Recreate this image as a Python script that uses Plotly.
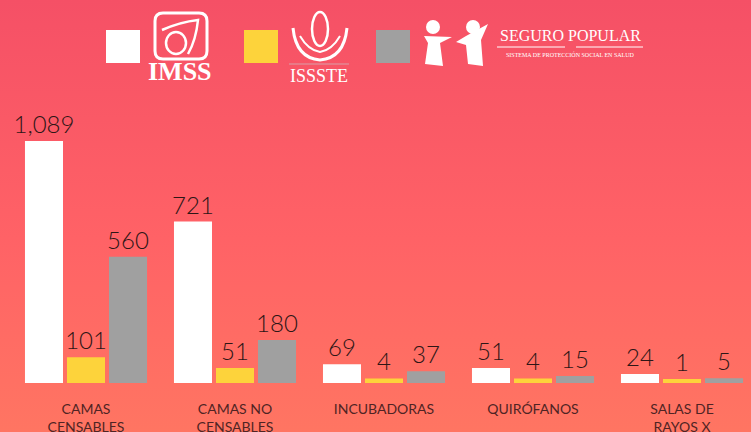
import base64
import plotly.graph_objects as go

# ---------------- data ----------------
categories = ["CAMAS<br>CENSABLES", "CAMAS NO<br>CENSABLES", "INCUBADORAS", "QUIRÓFANOS", "SALAS DE<br>RAYOS X"]
imss = [1089, 721, 69, 51, 24]
issste = [101, 51, 4, 4, 1]
seguro_popular = [560, 180, 37, 15, 5]
series_names = ["IMSS", "ISSSTE", "Seguro Popular"]

# ---------------- style ----------------
W, H = 751, 432
ML, MR, MT, MB = 12, 0, 100, 49
PW, PH = W - ML - MR, H - MT - MB
PAD = 17  # visual minimum thickness of bars (drawn below zero)
colors = ["#FFFFFF", "#FDD33B", "#A0A0A0"]
num_color = "#2e1616"
lab_color = "#4f2424"
FONT = "Lato"

def px(x):
    return (x - ML) / PW

def py(y):
    return (H - MB - y) / PH

fig = go.Figure()
for name, vals, col in zip(series_names, [imss, issste, seguro_popular], colors):
    fig.add_trace(go.Bar(
        name=name, x=categories, y=[v + PAD for v in vals], base=-PAD,
        marker=dict(color=col, line=dict(width=0)),
        text=[f"{v:,}" for v in vals], textposition="outside", constraintext="none",
        cliponaxis=False,
        textfont=dict(family=FONT, size=24, color=num_color, weight=300),
        hovertemplate=name + ": %{text}<extra></extra>",
    ))

# background gradient
svg = ('<svg xmlns="http://www.w3.org/2000/svg" width="751" height="432" preserveAspectRatio="none">'
       '<defs><linearGradient id="g" x1="0" y1="0" x2="0" y2="1">'
       '<stop offset="0" stop-color="#F55066"/><stop offset="0.55" stop-color="#FF6266"/>'
       '<stop offset="1" stop-color="#FF7562"/></linearGradient></defs>'
       '<rect width="751" height="432" fill="url(#g)"/></svg>')
src = "data:image/svg+xml;base64," + base64.b64encode(svg.encode()).decode()

shapes = []
# legend squares
for x0, col in [(106, colors[0]), (244, colors[1]), (376, colors[2])]:
    shapes.append(dict(type="rect", xref="paper", yref="paper",
                       x0=px(x0), x1=px(x0 + 34), y0=py(63), y1=py(30),
                       fillcolor=col, line=dict(width=0)))

def rrect(x0, y0, x1, y1, r):
    return (f"M {px(x0+r)},{py(y0)} L {px(x1-r)},{py(y0)} Q {px(x1)},{py(y0)} {px(x1)},{py(y0+r)} "
            f"L {px(x1)},{py(y1-r)} Q {px(x1)},{py(y1)} {px(x1-r)},{py(y1)} "
            f"L {px(x0+r)},{py(y1)} Q {px(x0)},{py(y1)} {px(x0)},{py(y1-r)} "
            f"L {px(x0)},{py(y0+r)} Q {px(x0)},{py(y0)} {px(x0+r)},{py(y0)} Z")

# IMSS emblem
shapes.append(dict(type="path", xref="paper", yref="paper", path=rrect(155, 13, 207, 59, 8),
                   line=dict(color="white", width=3)))
shapes.append(dict(type="path", xref="paper", yref="paper",
                   path=f"M {px(162)},{py(30)} Q {px(180)},{py(22)} {px(198)},{py(20)} Q {px(196)},{py(40)} {px(188)},{py(54)}",
                   line=dict(color="white", width=2.5)))
shapes.append(dict(type="circle", xref="paper", yref="paper", x0=px(166), x1=px(186), y0=py(54), y1=py(32),
                   line=dict(color="white", width=2.5)))
# ISSSTE emblem (hands approximated)
shapes.append(dict(type="path", xref="paper", yref="paper",
                   path=f"M {px(293)},{py(28)} Q {px(296)},{py(58)} {px(320)},{py(60)} Q {px(344)},{py(58)} {px(347)},{py(28)}",
                   line=dict(color="white", width=3)))
shapes.append(dict(type="path", xref="paper", yref="paper",
                   path=f"M {px(300)},{py(36)} Q {px(308)},{py(50)} {px(320)},{py(52)} Q {px(332)},{py(50)} {px(340)},{py(36)}",
                   line=dict(color="white", width=2)))
shapes.append(dict(type="circle", xref="paper", yref="paper", x0=px(312), x1=px(328), y0=py(46), y1=py(12),
                   line=dict(color="white", width=2.5)))
shapes.append(dict(type="line", xref="paper", yref="paper", x0=px(289), x1=px(349), y0=py(64), y1=py(64),
                   line=dict(color="#d9a0a8", width=1)))
# Seguro Popular children
for hx, hy, r in [(433, 27, 7), (473, 27, 7)]:
    shapes.append(dict(type="circle", xref="paper", yref="paper", x0=px(hx - r), x1=px(hx + r),
                       y0=py(hy + r), y1=py(hy - r), fillcolor="white", line=dict(width=0)))
shapes.append(dict(type="path", xref="paper", yref="paper",
                   path=f"M {px(424)},{py(36)} L {px(452)},{py(37)} L {px(440)},{py(43)} L {px(443)},{py(66)} "
                        f"L {px(425)},{py(64)} L {px(428)},{py(43)} Z",
                   fillcolor="white", line=dict(width=0)))
shapes.append(dict(type="path", xref="paper", yref="paper",
                   path=f"M {px(456)},{py(42)} L {px(466)},{py(36)} L {px(488)},{py(24)} L {px(481)},{py(40)} "
                        f"L {px(483)},{py(66)} L {px(468)},{py(64)} L {px(466)},{py(45)} Z",
                   fillcolor="white", line=dict(width=0)))
# Seguro Popular rule
shapes.append(dict(type="line", xref="paper", yref="paper", x0=px(497), x1=px(565), y0=py(47), y1=py(47),
                   line=dict(color="white", width=1)))
shapes.append(dict(type="line", xref="paper", yref="paper", x0=px(576), x1=px(643), y0=py(47), y1=py(47),
                   line=dict(color="white", width=1)))

def ann(text, x, y, size, bold=False):
    return dict(text=f"<b>{text}</b>" if bold else text, x=px(x), y=py(y), xref="paper", yref="paper",
                xanchor="center", yanchor="middle", showarrow=False,
                font=dict(family="Liberation Serif", size=size, color="white"))

annotations = [
    ann("IMSS", 180, 72, 26, bold=True),
    ann("ISSSTE", 319, 76, 18),
    ann("SEGURO POPULAR", 570, 36, 16),
    ann("SISTEMA DE PROTECCIÓN SOCIAL EN SALUD", 570, 55, 6),
]

fig.update_layout(
    template="none",
    width=W, height=H,
    margin=dict(l=ML, r=MR, t=MT, b=MB, pad=0, autoexpand=False),
    barmode="group", bargap=0.154, bargroupgap=0.095,
    paper_bgcolor="#FF6266", plot_bgcolor="rgba(0,0,0,0)",
    showlegend=False,
    xaxis=dict(range=[-0.5 + 0.5 / 149, -0.5 + 0.5 / 149 + PW / 149], showgrid=False, zeroline=False,
               showline=False, ticks="", ticklabelstandoff=16, automargin=False,
               tickfont=dict(family=FONT, size=14, color=lab_color, weight=400)),
    yaxis=dict(range=[-PAD, -PAD + PH * 1106 / 242], visible=False, showgrid=False, zeroline=False,
               automargin=False),
    images=[dict(source=src, xref="paper", yref="paper", x=-ML / PW, y=1 + MT / PH,
                 sizex=W / PW, sizey=H / PH, xanchor="left", yanchor="top",
                 sizing="stretch", layer="below")],
    shapes=shapes, annotations=annotations,
    font=dict(family=FONT),
)

fig.write_html("out.html", config={"displayModeBar": False},
               post_script="document.body.style.margin='0';document.body.style.overflow='hidden';")
